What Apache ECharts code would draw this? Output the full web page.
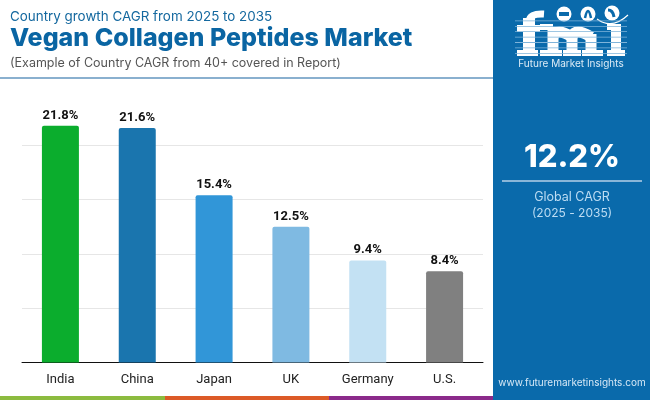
<!DOCTYPE html>
<html><head><meta charset="utf-8">
<style>html,body{margin:0;padding:0;background:#fff}#c{width:650px;height:400px}</style>
<script src="https://cdn.jsdelivr.net/npm/echarts@6/dist/echarts.min.js"></script>
</head><body><div id="c"></div>
<script>
const categories = ['India','China','Japan','UK','Germany','U.S.'];
const cagrValues = [21.8,21.6,15.4,12.5,9.4,8.4];
const barColors = ['#0bad2d','#1a75ae','#3196d8','#7fbae2','#c3e1f3','#808080'];
const subtitleText = 'Country growth CAGR from 2025 to 2035';
const titleText = 'Vegan Collagen Peptides Market';
const noteText = '(Example of Country CAGR from 40+ covered in Report)';
const globalValue = '12.2%';
const globalLabel = 'Global CAGR';
const globalPeriod = '(2025 - 2035)';
const brandName = 'Future Market Insights';
const siteUrl = 'www.futuremarketinsights.com';

const PANEL = '#0a6aab';
const HEAD = 'Inter,"Open Sans",sans-serif';
const t = (x,y,text,font,fill,align) => ({type:'text',x,y,silent:true,z:10,
  style:{text,font,fill,textAlign:align||'left',textVerticalAlign:'middle'}});
const r = (x,y,w,h,fill,z) => ({type:'rect',silent:true,z:z||5,shape:{x,y,width:w,height:h},style:{fill}});
const curve = (x1,y1,cx,cy,x2,y2,w,col,z) => ({type:'bezierCurve',silent:true,z:z||11,
  shape:{x1,y1,cpx1:cx,cpy1:cy,x2,y2},style:{fill:null,stroke:col||'#fff',lineWidth:w}});
const circle = (cx,cy,rad,fill) => ({type:'circle',silent:true,z:11,shape:{cx,cy,r:rad},style:{fill}});

const logo = [
  // f
  r(523,18,12,34,'#fff',11), r(517,25,23,7,'#fff',11), r(517,50,21,6,'#fff',11),
  curve(529,22,529,13,544,14,7),
  // m
  r(540,24,13,6,'#fff',11),
  r(547.5,27,11,25,'#fff',11), r(566.5,34,11,18,'#fff',11), r(585.5,34,11,18,'#fff',11),
  curve(553,37,556,27,572,37,11), curve(572,37,575,27,591,37,11),
  r(540,50,22,6,'#fff',11), r(563,50,18,6,'#fff',11), r(582,50,21,6,'#fff',11),
  // i
  r(611,24,10,28,'#fff',11), r(607,24,14,6,'#fff',11), r(607,50,18,6,'#fff',11),
  // globes and swoosh
  circle(564,14,7.5,'#fff'), circle(588,14,7.5,'#fff'), circle(612,13,7.5,'#fff'),
  r(559,12,10,4,PANEL,12),
  curve(585,18,588,4,591,18,2.5,PANEL,12),
  curve(608,10,613,10,614,17,3,PANEL,12),
  curve(597,19,612,30,628,15,1.2)
];
for (let y=20.5;y<56;y+=5.4) logo.push(r(515,y,112,0.8,'#7fb4da',12));

const chart = echarts.init(document.getElementById('c'),null,{renderer:'canvas'});
chart.setOption({
  animation:false,
  backgroundColor:'#fff',
  grid:{left:22,right:167,top:91,bottom:37.5,containLabel:false},
  xAxis:{type:'category',data:categories,
    axisTick:{show:false},
    axisLine:{lineStyle:{color:'#111',width:1}},
    axisLabel:{color:'#222',fontFamily:'Roboto',fontSize:13,margin:11}},
  yAxis:{type:'value',min:0,max:25,interval:5,
    axisLabel:{show:false},axisLine:{show:false},axisTick:{show:false},
    splitLine:{show:true,showMaxLine:false,showMinLine:false,lineStyle:{color:'#e6e6e6',width:1}}},
  series:[{type:'bar',barWidth:37,
    data:cagrValues.map((v,i)=>({value:v,itemStyle:{color:barColors[i],borderRadius:[2,2,0,0]}})),
    label:{show:true,position:'top',distance:4,color:'#111',fontFamily:'Roboto',fontWeight:'bold',fontSize:13,
      formatter:p=>p.value.toFixed(1)+'%'}}],
  graphic:{elements:[
    r(0,77,493,2,'#8ab0cf'),
    r(493,0,157,400,PANEL),
    r(0,396,165,4,'#8cbb3f'),
    r(165,396,164,4,'#dc5a27'),
    r(329,396,164,4,'#8b2a8a'),
    t(10,17,subtitleText,'13.4px '+HEAD,'#14689f'),
    t(10,38,titleText,'800 25px '+HEAD,'#0a65a3'),
    t(10,63,noteText,'12.5px '+HEAD,'#555'),
    ...logo,
    t(571,64,brandName,'10px '+HEAD,'#dcebf6','center'),
    t(572,158,globalValue,'800 31px '+HEAD,'#fff','center'),
    r(502,180,140,2,'#8ab6d8'),
    t(572,197,globalLabel,'12.5px '+HEAD,'#bcdcf3','center'),
    t(572,213,globalPeriod,'12px '+HEAD,'#bcdcf3','center'),
    t(572,383,siteUrl,'10px '+HEAD,'#d6e8f6','center')
  ]}
});
</script></body></html>
